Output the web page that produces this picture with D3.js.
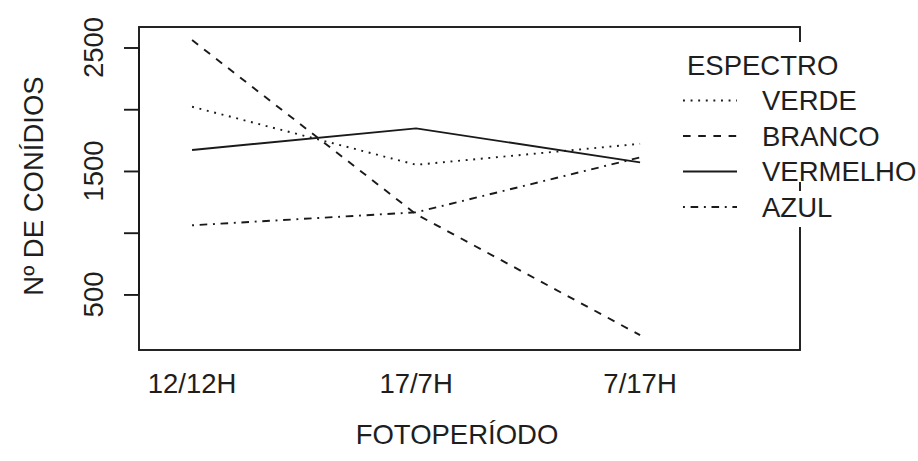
<!DOCTYPE html>
<html>
<head>
<meta charset="utf-8">
<script src="https://cdn.jsdelivr.net/npm/d3@7"></script>
<style>
  body { margin: 0; background: #fff; }
  text { font-family: Arial, "Liberation Sans", sans-serif; fill: #1e1e1e; }
</style>
</head>
<body>
<svg id="chart" width="918" height="461"></svg>
<script>
// Photoperiod categories (x axis)
const categories = ["12/12H", "17/7H", "7/17H"];
// Mean conidia count per spectrum, one value per photoperiod
const verde    = [2020, 1550, 1720];
const branco   = [2560, 1150, 170];
const vermelho = [1670, 1845, 1570];
const azul     = [1060, 1165, 1610];
const seriesNames = ["VERDE", "BRANCO", "VERMELHO", "AZUL"];
// Y axis ticks and the labels printed beside them
const yTicks = [500, 1000, 1500, 2000, 2500];
const yTickLabels = ["500", "", "1500", "", "2500"];
const xTitle = "FOTOPERÍODO";
const yTitle = "Nº DE CONÍDIOS";
const legendTitle = "ESPECTRO";

const seriesValues = [verde, branco, vermelho, azul];
// R-style line types: dotted, dashed, solid, dot-dash
const dashes = ["1.9 5.7", "7.6 7.6", null, "1.9 5.7 7.6 5.7"];

const svg = d3.select("#chart");
const box = { left: 139, right: 800, top: 27, bottom: 350 };
const fs = 27.5;

const x = d3.scaleLinear().domain([0.763, 3.714]).range([box.left, box.right]);
const y = d3.scaleLinear().domain([50, 2666]).range([box.bottom, box.top]);

const line = d3.line()
  .x((d, i) => x(i + 1))
  .y(d => y(d));

// series lines
seriesValues.forEach((vals, k) => {
  svg.append("path")
    .attr("d", line(vals))
    .attr("fill", "none")
    .attr("stroke", "#1a1a1a")
    .attr("stroke-width", 1.9)
    .attr("stroke-dasharray", dashes[k]);
});

// plot frame
svg.append("rect")
  .attr("x", box.left).attr("y", box.top)
  .attr("width", box.right - box.left).attr("height", box.bottom - box.top)
  .attr("fill", "none").attr("stroke", "#1a1a1a").attr("stroke-width", 1.9);

// legend sits on white patches over the frame's right edge
svg.append("rect")
  .attr("x", 660).attr("y", 42).attr("width", 258).attr("height", 140)
  .attr("fill", "#fff");
svg.append("rect")
  .attr("x", 790).attr("y", 191).attr("width", 20).attr("height", 36)
  .attr("fill", "#fff");

// y axis
const yAxis = d3.axisLeft(y).tickValues(yTicks).tickSize(15).tickFormat("");
const gy = svg.append("g").attr("transform", `translate(${box.left},0)`).call(yAxis);
gy.select(".domain")
  .attr("d", `M0,${y(yTicks[0])}V${y(yTicks[yTicks.length - 1])}`)
  .attr("stroke", "#1a1a1a").attr("stroke-width", 1.9);
gy.selectAll(".tick line").attr("stroke", "#1a1a1a").attr("stroke-width", 1.9);

svg.append("g").selectAll("text")
  .data(yTicks)
  .join("text")
  .attr("transform", d => `translate(93,${y(d)}) rotate(-90)`)
  .attr("text-anchor", "middle")
  .attr("dy", "0.36em")
  .style("font-size", fs + "px")
  .text((d, i) => yTickLabels[i]);

// x category labels (no tick marks)
svg.append("g").selectAll("text")
  .data(categories)
  .join("text")
  .attr("x", (d, i) => x(i + 1))
  .attr("y", 383)
  .attr("text-anchor", "middle")
  .attr("dy", "0.36em")
  .style("font-size", fs + "px")
  .text(d => d);

// axis titles
svg.append("text")
  .attr("x", 457).attr("y", 434)
  .attr("text-anchor", "middle").attr("dy", "0.36em")
  .style("font-size", fs + "px")
  .text(xTitle);

svg.append("text")
  .attr("transform", "translate(33,186) rotate(-90)")
  .attr("text-anchor", "middle").attr("dy", "0.36em")
  .style("font-size", fs + "px")
  .text(yTitle);

// legend
const legTop = 65, legStep = 35.5;
svg.append("text")
  .attr("x", 687).attr("y", legTop).attr("dy", "0.36em")
  .style("font-size", fs + "px")
  .text(legendTitle);

const leg = svg.append("g").selectAll("g")
  .data(seriesNames)
  .join("g")
  .attr("transform", (d, i) => `translate(0,${legTop + legStep * (i + 1)})`);

leg.append("line")
  .attr("x1", 683).attr("x2", 737).attr("y1", 0).attr("y2", 0)
  .attr("stroke", "#1a1a1a").attr("stroke-width", 1.9)
  .attr("stroke-dasharray", (d, i) => dashes[i]);

leg.append("text")
  .attr("x", 762).attr("dy", "0.36em")
  .style("font-size", fs + "px")
  .text(d => d);
</script>
</body>
</html>
